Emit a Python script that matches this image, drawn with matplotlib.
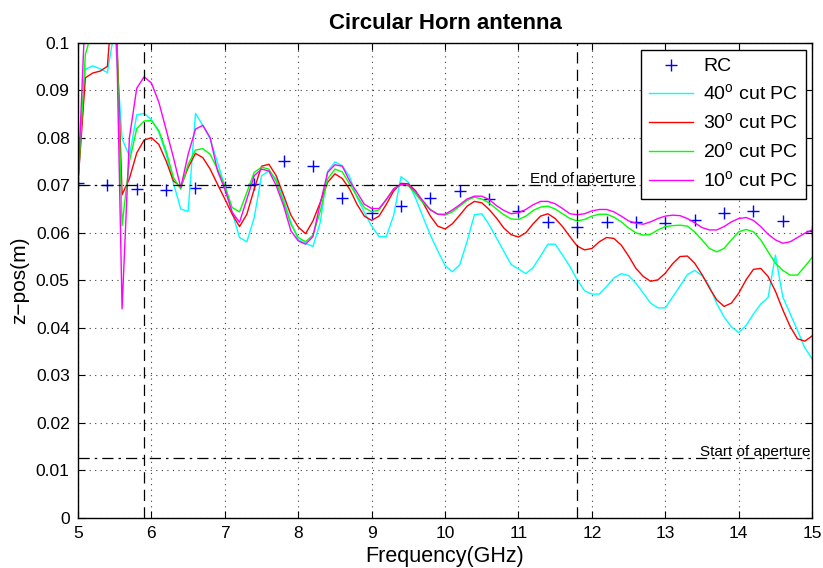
import numpy as np
import matplotlib
matplotlib.use("Agg")
import matplotlib.pyplot as plt
from matplotlib.ticker import FormatStrFormatter

plt.rcParams['font.family'] = ['Liberation Sans', 'DejaVu Sans']
plt.rcParams['mathtext.fontset'] = 'custom'
plt.rcParams['mathtext.rm'] = 'Liberation Sans'

# frequency grid of the PC curves (GHz) and of the RC points
freq = np.round(np.arange(5.0, 15.01, 0.1), 1)
freq_rc = np.round(np.arange(5.0, 15.01, 0.4), 1)

rc = [0.0705, 0.0700, 0.0692, 0.0690, 0.0695, 0.0697, 0.0703, 0.0752, 0.0740,
      0.0674, 0.0641, 0.0657, 0.0674, 0.0687, 0.0672, 0.0645, 0.0622, 0.0613,
      0.0622, 0.0623, 0.0620, 0.0627, 0.0641, 0.0646, 0.0624, 0.0603]

pc40 = [0.0705, 0.0944, 0.0951, 0.0945, 0.0937, 0.1030, 0.0798, 0.0761, 0.0848, 0.0851,
        0.0838, 0.0812, 0.0765, 0.0704, 0.0650, 0.0645, 0.0851, 0.0826, 0.0797, 0.0748,
        0.0697, 0.0643, 0.0590, 0.0581, 0.0632, 0.0720, 0.0730, 0.0713, 0.0671, 0.0622,
        0.0585, 0.0578, 0.0571, 0.0622, 0.0729, 0.0749, 0.0741, 0.0718, 0.0674, 0.0643,
        0.0614, 0.0592, 0.0592, 0.0637, 0.0718, 0.0706, 0.0672, 0.0633, 0.0595, 0.0562,
        0.0531, 0.0518, 0.0533, 0.0582, 0.0638, 0.0640, 0.0617, 0.0589, 0.0561, 0.0533,
        0.0524, 0.0514, 0.0527, 0.0551, 0.0576, 0.0576, 0.0553, 0.0529, 0.0501, 0.0478,
        0.0471, 0.0471, 0.0487, 0.0505, 0.0514, 0.0510, 0.0494, 0.0473, 0.0452, 0.0442,
        0.0442, 0.0465, 0.0488, 0.0512, 0.0521, 0.0510, 0.0488, 0.0451, 0.0423, 0.0402,
        0.0390, 0.0405, 0.0429, 0.0450, 0.0464, 0.0553, 0.0465, 0.0430, 0.0395, 0.0358,
        0.0335]

pc30 = [0.0705, 0.0926, 0.0936, 0.0940, 0.0950, 0.1150, 0.0680, 0.0714, 0.0768, 0.0795,
        0.0800, 0.0786, 0.0751, 0.0709, 0.0697, 0.0737, 0.0767, 0.0758, 0.0734, 0.0702,
        0.0671, 0.0639, 0.0613, 0.0639, 0.0692, 0.0740, 0.0744, 0.0720, 0.0679, 0.0637,
        0.0612, 0.0598, 0.0625, 0.0664, 0.0706, 0.0724, 0.0714, 0.0692, 0.0660, 0.0635,
        0.0626, 0.0635, 0.0660, 0.0688, 0.0704, 0.0703, 0.0688, 0.0663, 0.0635, 0.0614,
        0.0608, 0.0619, 0.0637, 0.0656, 0.0666, 0.0663, 0.0649, 0.0631, 0.0610, 0.0596,
        0.0591, 0.0600, 0.0619, 0.0635, 0.0640, 0.0630, 0.0613, 0.0592, 0.0572, 0.0564,
        0.0567, 0.0581, 0.0590, 0.0588, 0.0574, 0.0551, 0.0525, 0.0508, 0.0498, 0.0501,
        0.0515, 0.0535, 0.0550, 0.0551, 0.0536, 0.0512, 0.0484, 0.0459, 0.0445, 0.0452,
        0.0473, 0.0501, 0.0523, 0.0525, 0.0508, 0.0477, 0.0438, 0.0403, 0.0377, 0.0372,
        0.0383]

pc20 = [0.0705, 0.0975, 0.1030, 0.1060, 0.1080, 0.1165, 0.0615, 0.0750, 0.0819, 0.0835,
        0.0836, 0.0815, 0.0772, 0.0716, 0.0692, 0.0744, 0.0774, 0.0777, 0.0765, 0.0734,
        0.0699, 0.0653, 0.0644, 0.0685, 0.0727, 0.0738, 0.0734, 0.0708, 0.0664, 0.0618,
        0.0590, 0.0581, 0.0595, 0.0645, 0.0713, 0.0734, 0.0728, 0.0702, 0.0677, 0.0653,
        0.0644, 0.0648, 0.0670, 0.0693, 0.0700, 0.0699, 0.0681, 0.0663, 0.0649, 0.0639,
        0.0637, 0.0644, 0.0656, 0.0668, 0.0675, 0.0671, 0.0663, 0.0650, 0.0638, 0.0629,
        0.0628, 0.0635, 0.0647, 0.0654, 0.0656, 0.0650, 0.0640, 0.0630, 0.0625, 0.0628,
        0.0635, 0.0639, 0.0639, 0.0633, 0.0623, 0.0610, 0.0600, 0.0595, 0.0597, 0.0606,
        0.0613, 0.0615, 0.0616, 0.0614, 0.0602, 0.0585, 0.0567, 0.0560, 0.0567, 0.0585,
        0.0602, 0.0607, 0.0602, 0.0585, 0.0560, 0.0536, 0.0521, 0.0511, 0.0511, 0.0529,
        0.0548]

pc10 = [0.0705, 0.1074, 0.1100, 0.1120, 0.1150, 0.1207, 0.0440, 0.0800, 0.0904, 0.0928,
        0.0915, 0.0875, 0.0817, 0.0758, 0.0695, 0.0765, 0.0818, 0.0826, 0.0800, 0.0730,
        0.0692, 0.0643, 0.0622, 0.0671, 0.0720, 0.0734, 0.0730, 0.0699, 0.0657, 0.0604,
        0.0583, 0.0576, 0.0592, 0.0662, 0.0727, 0.0743, 0.0740, 0.0709, 0.0685, 0.0660,
        0.0651, 0.0651, 0.0670, 0.0692, 0.0702, 0.0700, 0.0686, 0.0667, 0.0648, 0.0639,
        0.0639, 0.0648, 0.0659, 0.0671, 0.0677, 0.0677, 0.0670, 0.0657, 0.0647, 0.0640,
        0.0642, 0.0649, 0.0659, 0.0666, 0.0666, 0.0661, 0.0651, 0.0640, 0.0638, 0.0640,
        0.0646, 0.0649, 0.0649, 0.0644, 0.0635, 0.0625, 0.0620, 0.0618, 0.0623, 0.0630,
        0.0635, 0.0637, 0.0636, 0.0630, 0.0621, 0.0611, 0.0606, 0.0606, 0.0613, 0.0623,
        0.0630, 0.0632, 0.0626, 0.0613, 0.0597, 0.0585, 0.0578, 0.0581, 0.0590, 0.0599,
        0.0606]

# aperture positions (m) and frequency markers (GHz)
aperture_end = 0.07
aperture_start = 0.0127
freq_marks = [5.9, 11.8]

fig = plt.figure(figsize=(8.23, 5.68), dpi=100)
ax = fig.add_axes([0.0948, 0.088, 0.892, 0.837])

ax.plot(freq_rc, rc, '+', color='#0000ff', markersize=8, mew=1.0, label='RC')
ax.plot(freq, pc40, color='#00ffff', lw=1.0, label='40$^\\mathrm{o}$ cut PC')
ax.plot(freq, pc30, color='#ff0000', lw=1.0, label='30$^\\mathrm{o}$ cut PC')
ax.plot(freq, pc20, color='#00ff00', lw=1.0, label='20$^\\mathrm{o}$ cut PC')
ax.plot(freq, pc10, color='#ff00ff', lw=1.0, label='10$^\\mathrm{o}$ cut PC')

ax.axhline(aperture_end, color='black', lw=0.9, linestyle=(0, (9, 4, 2, 4)))
ax.axhline(aperture_start, color='black', lw=0.9, linestyle=(0, (9, 4, 2, 4)))
for f in freq_marks:
    ax.axvline(f, color='black', lw=0.9, linestyle=(0, (9, 5)))

ax.text(11.15, aperture_end + 0.0004, 'End of aperture', fontsize=11, va='baseline')
ax.text(13.47, aperture_start + 0.0004, 'Start of aperture', fontsize=11, va='baseline')

ax.set_xlim(5, 15)
ax.set_ylim(0, 0.1)
ax.set_xticks(np.arange(5, 16, 1))
ax.set_yticks(np.arange(0, 0.1001, 0.01))
ax.yaxis.set_major_formatter(FormatStrFormatter('%g'))
ax.grid(True, linestyle=(0, (1, 4)), color='0.25', lw=0.8)
ax.tick_params(direction='in', top=True, right=True, length=5, width=0.8,
               labelsize=12.5, pad=6)
for s in ax.spines.values():
    s.set_linewidth(1.0)

ax.set_title('Circular Horn antenna', fontsize=16, fontweight='bold', pad=10)
ax.set_xlabel('Frequency(GHz)', fontsize=15.5, labelpad=3)
ax.set_ylabel('z\u2212pos(m)', fontsize=15, labelpad=5)

leg = ax.legend(loc='upper right', bbox_to_anchor=(0.9918, 0.9846), borderaxespad=0,
                fontsize=14, fancybox=False, edgecolor='black', framealpha=1,
                handlelength=2.3, labelspacing=0.42, borderpad=0.4, handletextpad=0.5)
leg.get_frame().set_linewidth(1.0)

fig.savefig('out.png', dpi=100)
